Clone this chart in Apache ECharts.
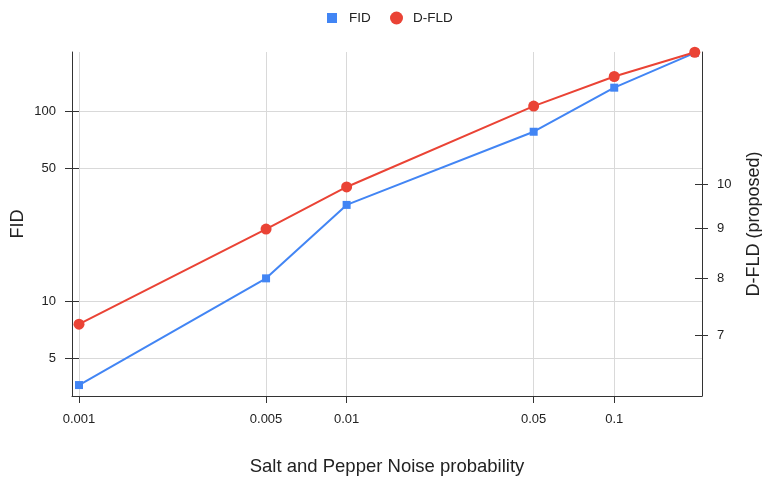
<!DOCTYPE html>
<html><head><meta charset="utf-8">
<script src="https://cdn.jsdelivr.net/npm/echarts@6/dist/echarts.min.js"></script>
<style>html,body{margin:0;padding:0;background:#fff}#c{width:762px;height:479px}</style>
</head><body><div id="c"></div>
<script>
const noiseProb = [0.001, 0.005, 0.01, 0.05, 0.1, 0.2];
const fidValues = [3.63, 13.2, 32.1, 77.8, 132.6, 202];
const dfldValues = [7.18, 8.99, 9.93, 12.02, 12.89, 13.65];
const xTickValues = [0.001, 0.005, 0.01, 0.05, 0.1];
const xTickLabels = ['0.001', '0.005', '0.01', '0.05', '0.1'];
const fidTickValues = [5, 10, 50, 100];
const fidTickLabels = ['5', '10', '50', '100'];
const dfldTickValues = [7, 8, 9, 10];
const dfldTickLabels = ['7', '8', '9', '10'];

const L = Math.log10;
function labelFor(values, labels) {
  return function (v) {
    let best = 0, d = Infinity;
    values.forEach(function (t, i) { const dd = Math.abs(L(t) - v); if (dd < d) { d = dd; best = i; } });
    return labels[best];
  };
}
const FONT = 'Liberation Sans, Arial, sans-serif';
const TXT = '#222';
const AX = '#333';
const GRID = '#d9d9d9';

const xRange = [-3.0262, -0.672];
const fidRange = [0.5024, 2.310];
const dfldRange = [0.7825, 1.1354];

const chart = echarts.init(document.getElementById('c'), null, { renderer: 'canvas' });
chart.setOption({
  animation: false,
  backgroundColor: '#fff',
  textStyle: { fontFamily: FONT },
  grid: { left: 72, right: 60, top: 52, bottom: 83, containLabel: false, outerBoundsMode: 'none' },
  legend: [
    { data: [{ name: 'FID', icon: 'rect' }], left: 322, top: 6, itemWidth: 10, itemHeight: 10,
      textStyle: { fontSize: 13.5, color: TXT, fontFamily: FONT, padding: [0, 0, 0, 7] } },
    { data: [{ name: 'D-FLD', icon: 'circle' }], left: 385, top: 6, itemWidth: 13, itemHeight: 13,
      textStyle: { fontSize: 13.5, color: TXT, fontFamily: FONT, padding: [0, 0, 0, 5] } }
  ],
  xAxis: {
    type: 'value', min: xRange[0], max: xRange[1],
    name: 'Salt and Pepper Noise probability', nameLocation: 'middle', nameGap: 61,
    nameTextStyle: { fontSize: 18.5, color: TXT, fontFamily: FONT },
    axisLine: { show: true, onZero: false, lineStyle: { color: AX, width: 1 } },
    axisTick: { show: true, customValues: xTickValues.map(L), length: 7, lineStyle: { color: AX } },
    axisLabel: { customValues: xTickValues.map(L), formatter: labelFor(xTickValues, xTickLabels), margin: 17, fontSize: 13, color: TXT, fontFamily: FONT },
    splitLine: { show: true, lineStyle: { color: GRID, width: 1 } }
  },
  yAxis: [
    {
      type: 'value', position: 'left', min: fidRange[0], max: fidRange[1],
      name: 'FID', nameLocation: 'middle', nameGap: 45, nameRotate: 90, nameMoveOverlap: false,
      nameTextStyle: { fontSize: 18, color: TXT, fontFamily: FONT },
      axisLine: { show: true, onZero: false, lineStyle: { color: AX, width: 1 } },
      axisTick: { show: true, customValues: fidTickValues.map(L), length: 7, lineStyle: { color: AX } },
      axisLabel: { customValues: fidTickValues.map(L), formatter: labelFor(fidTickValues, fidTickLabels), margin: 16, fontSize: 13, color: TXT, fontFamily: FONT },
      splitLine: { show: true, lineStyle: { color: GRID, width: 1 } }
    },
    {
      type: 'value', position: 'right', min: dfldRange[0], max: dfldRange[1],
      name: 'D-FLD (proposed)', nameLocation: 'middle', nameGap: 43, nameRotate: 90,
      nameTextStyle: { fontSize: 18, color: TXT, fontFamily: FONT },
      axisLine: { show: true, onZero: false, lineStyle: { color: AX, width: 1 } },
      axisTick: { show: true, customValues: dfldTickValues.map(L), length: 6, lineStyle: { color: AX } },
      axisLabel: { customValues: dfldTickValues.map(L), formatter: labelFor(dfldTickValues, dfldTickLabels), margin: 15, fontSize: 13, color: TXT, fontFamily: FONT },
      splitLine: { show: false }
    },
    {
      type: 'value', position: 'left', min: fidRange[0], max: fidRange[1],
      axisLine: { show: false },
      axisTick: { show: true, inside: true, customValues: fidTickValues.map(L), length: 7, lineStyle: { color: AX } },
      axisLabel: { show: false }, splitLine: { show: false }
    },
    {
      type: 'value', position: 'right', min: dfldRange[0], max: dfldRange[1],
      axisLine: { show: false },
      axisTick: { show: true, inside: true, customValues: dfldTickValues.map(L), length: 7, lineStyle: { color: AX } },
      axisLabel: { show: false }, splitLine: { show: false }
    }
  ],
  series: [
    {
      name: 'FID', type: 'line', yAxisIndex: 0,
      data: noiseProb.map(function (p, i) { return [L(p), L(fidValues[i])]; }),
      symbol: 'rect', symbolSize: 8, showAllSymbol: true, clip: false,
      itemStyle: { color: '#4285F4' }, lineStyle: { color: '#4285F4', width: 2 }
    },
    {
      name: 'D-FLD', type: 'line', yAxisIndex: 1,
      data: noiseProb.map(function (p, i) { return [L(p), L(dfldValues[i])]; }),
      symbol: 'circle', symbolSize: 11, showAllSymbol: true, clip: false,
      itemStyle: { color: '#EA4335' }, lineStyle: { color: '#EA4335', width: 2 }
    }
  ]
});
</script>
</body></html>
